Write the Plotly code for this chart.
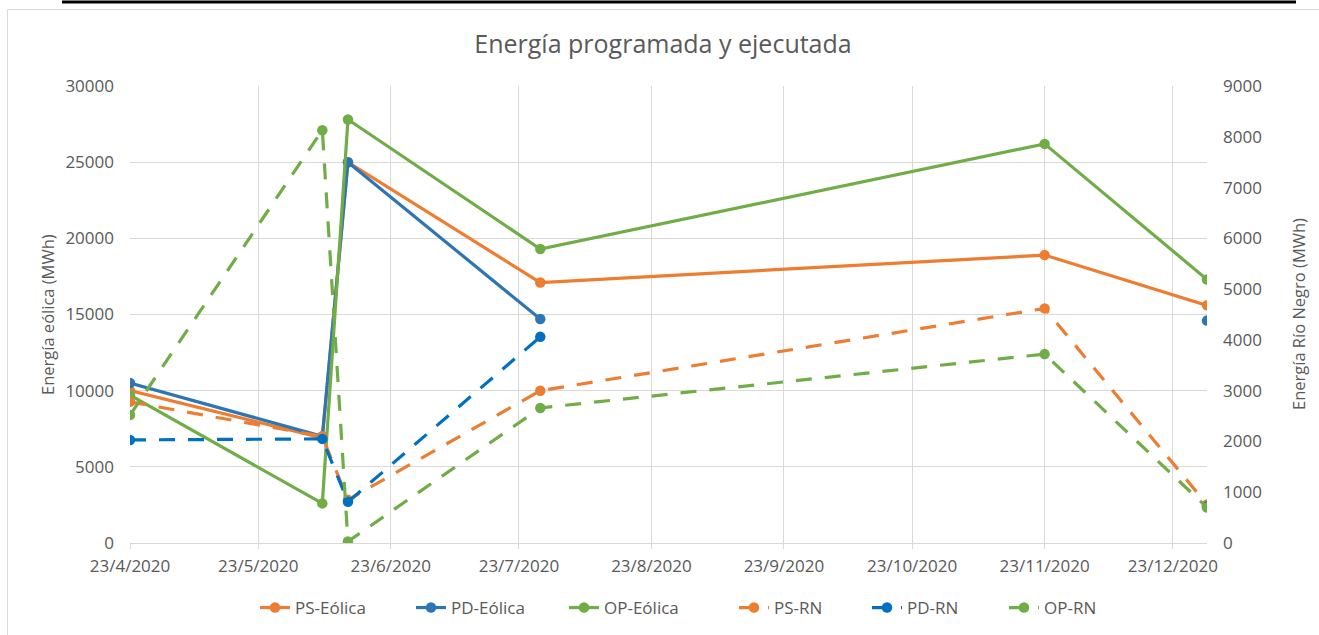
import plotly.graph_objects as go

# ---- data ----
dates = ["2020-04-23", "2020-06-07", "2020-06-13", "2020-07-28", "2020-11-23", "2020-12-31"]
ps_eolica = [10000, 6900, 25000, 17100, 18900, 15600]
pd_eolica = [10500, 7000, 25000, 14700, None, 14600]
op_eolica = [9700, 2600, 27800, 19300, 26200, 17300]
ps_rn = [2780, 2100, 850, 3000, 4620, 760]
pd_rn = [2030, 2050, 810, 4060, None, 720]
op_rn = [2520, 8130, 30, 2660, 3720, 700]

xtick_vals = ["2020-04-23", "2020-05-23", "2020-06-23", "2020-07-23", "2020-08-23",
              "2020-09-23", "2020-10-23", "2020-11-23", "2020-12-23"]
xtick_text = ["23/4/2020", "23/5/2020", "23/6/2020", "23/7/2020", "23/8/2020",
              "23/9/2020", "23/10/2020", "23/11/2020", "23/12/2020"]

title_text = "Energía programada y ejecutada"
y1_title = "Energía eólica (MWh)"
y2_title = "Energía Río Negro (MWh)"

ORANGE = "#ED7D31"
BLUE = "#2E75B6"
BLUE2 = "#0070C0"
GREEN = "#70AD47"
TXT = "#595959"
GRID = "#D9D9D9"
FONT = "Open Sans"

W, H = 1319, 635
L, R, T, B = 130, 1207, 86, 543

def px(x):
    return (x - L) / (R - L)

def py(y):
    return (B - y) / (B - T)

fig = go.Figure()

DASH = "16px,13px"

def add(name, ys, color, dash, axis, lw):
    fig.add_trace(go.Scatter(
        x=dates, y=ys, name=name, mode="lines+markers",
        line=dict(color=color, width=3.2, dash=dash),
        marker=dict(color=color, size=10.5),
        connectgaps=False, yaxis=axis, legendwidth=lw,
    ))

add("PS-Eólica", ps_eolica, ORANGE, "solid", "y", 111)
add("PD-Eólica", pd_eolica, BLUE, "solid", "y", 108)
add("OP-Eólica", op_eolica, GREEN, "solid", "y", 125)
add("PS-RN", ps_rn, ORANGE, DASH, "y2", 88)
add("PD-RN", pd_rn, BLUE2, DASH, "y2", 92)
add("OP-RN", op_rn, GREEN, DASH, "y2", 55)

fig.update_layout(
    width=W, height=H,
    margin=dict(l=L, r=W - R, t=T, b=H - B, pad=0, autoexpand=False),
    paper_bgcolor="white", plot_bgcolor="white",
    font=dict(family=FONT, color=TXT, size=17),
    title=dict(text=title_text, x=663 / W, xref="container", xanchor="center",
               y=1 - 44 / H, yref="container", yanchor="middle",
               font=dict(size=25, color=TXT, family=FONT)),
    showlegend=True,
    legend=dict(orientation="h", x=px(255), xanchor="left", y=py(608), yanchor="middle",
                font=dict(size=17, color=TXT, family=FONT), bgcolor="rgba(0,0,0,0)",
                itemwidth=30, traceorder="normal"),
    xaxis=dict(type="date", range=["2020-04-23", "2020-12-31"],
               tickvals=xtick_vals, ticktext=xtick_text,
               showgrid=True, gridcolor=GRID, gridwidth=1,
               showline=True, linecolor=GRID, linewidth=1,
               ticks="outside", ticklen=5, tickcolor=GRID,
               ticklabelstandoff=3, automargin=False,
               tickfont=dict(size=17, color=TXT, family=FONT),
               zeroline=False, fixedrange=True),
    yaxis=dict(range=[0, 30000], dtick=5000, tick0=0,
               showgrid=True, gridcolor=GRID, gridwidth=1,
               showline=False, zeroline=False, automargin=False,
               ticks="", ticklabelstandoff=15,
               tickfont=dict(size=17, color=TXT, family=FONT),
               tickformat="d"),
    yaxis2=dict(range=[0, 9000], dtick=1000, tick0=0, overlaying="y", side="right",
                showgrid=False, showline=False, zeroline=False, automargin=False,
                ticks="", ticklabelstandoff=15,
                tickfont=dict(size=17, color=TXT, family=FONT),
                tickformat="d"),
)

# axis titles as annotations
fig.add_annotation(text=y1_title, xref="paper", yref="paper", x=px(47), y=py(314),
                   xanchor="center", yanchor="middle", textangle=-90, showarrow=False,
                   font=dict(size=16.5, color=TXT, family=FONT))
fig.add_annotation(text=y2_title, xref="paper", yref="paper", x=px(1298), y=py(314),
                   xanchor="center", yanchor="middle", textangle=-90, showarrow=False,
                   font=dict(size=16.5, color=TXT, family=FONT))

# chart border and top black rule
fig.add_shape(type="rect", xref="paper", yref="paper",
              x0=px(7.5), x1=px(1330), y0=py(645), y1=py(9.5),
              line=dict(color=GRID, width=1), fillcolor="rgba(0,0,0,0)", layer="below")
fig.add_shape(type="line", xref="paper", yref="paper",
              x0=px(62), x1=px(1296), y0=py(2), y1=py(2),
              line=dict(color="black", width=3))

fig.write_html("out.html", config={"displayModeBar": False},
               post_script="document.body.style.margin='0';document.body.style.overflow='hidden';")
